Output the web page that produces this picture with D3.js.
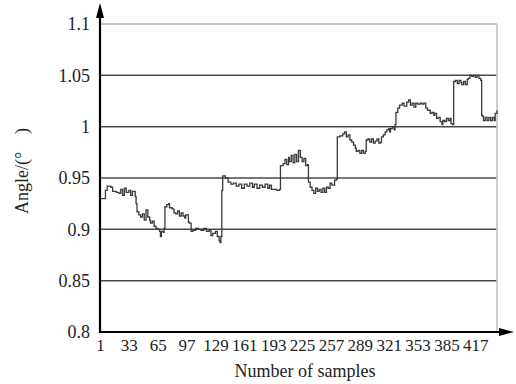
<!DOCTYPE html>
<html>
<head>
<meta charset="utf-8">
<script src="https://cdn.jsdelivr.net/npm/d3@7"></script>
<style>
  html, body { margin: 0; padding: 0; background: #fff; }
  svg { display: block; }
  text { font-family: "Liberation Serif", "Times New Roman", serif; fill: #222; }
</style>
</head>
<body>
<svg id="chart" width="516" height="384"></svg>
<script>
// Sample index and measured angle (degrees)
const sampleIdx = [
  1, 6, 7, 9, 13, 15, 19, 22, 24, 26, 28, 30, 33, 35, 37, 40, 41, 42, 44, 46,
  48, 50, 52, 54, 56, 57, 59, 61, 63, 65, 67, 68, 69, 71, 72, 73, 75, 77, 78, 81,
  83, 85, 87, 89, 91, 93, 95, 96, 99, 100, 102, 104, 107, 110, 113, 116, 119, 122, 124, 126,
  129, 131, 133, 134, 135, 136, 137, 140, 143, 146, 149, 152, 155, 158, 161, 164, 167, 170, 172, 175,
  178, 181, 184, 187, 189, 191, 194, 197, 200, 201, 204, 206, 208, 210, 211, 213, 215, 217, 219, 221,
  223, 225, 227, 229, 231, 232, 234, 236, 238, 240, 242, 244, 246, 248, 250, 252, 254, 256, 258, 261,
  263, 264, 267, 270, 272, 274, 276, 278, 280, 282, 284, 285, 287, 289, 291, 293, 295, 296, 298, 300,
  302, 304, 306, 308, 310, 312, 313, 315, 317, 319, 321, 322, 323, 325, 327, 328, 329, 331, 333, 336,
  338, 341, 343, 345, 347, 349, 351, 353, 356, 358, 360, 362, 364, 366, 367, 369, 371, 372, 374, 376,
  378, 380, 381, 383, 385, 387, 389, 390, 392, 393, 395, 397, 399, 401, 402, 404, 406, 408, 409, 411,
  413, 415, 417, 419, 421, 423, 424, 425, 426, 428, 430, 432, 434, 436, 438, 439, 441
];
const angleVal = [
  0.930, 0.930, 0.938, 0.942, 0.941, 0.937, 0.936, 0.935, 0.939, 0.933, 0.940, 0.936, 0.938, 0.933, 0.937, 0.932, 0.925, 0.917, 0.914, 0.912,
  0.915, 0.909, 0.919, 0.912, 0.909, 0.906, 0.908, 0.903, 0.901, 0.900, 0.898, 0.893, 0.898, 0.897, 0.901, 0.922, 0.924, 0.925, 0.921, 0.920,
  0.916, 0.915, 0.918, 0.913, 0.916, 0.913, 0.911, 0.914, 0.907, 0.906, 0.898, 0.899, 0.901, 0.900, 0.899, 0.901, 0.898, 0.899, 0.894, 0.896,
  0.898, 0.893, 0.889, 0.887, 0.893, 0.938, 0.952, 0.950, 0.946, 0.944, 0.945, 0.942, 0.944, 0.940, 0.944, 0.942, 0.945, 0.941, 0.944, 0.940,
  0.943, 0.941, 0.944, 0.940, 0.943, 0.939, 0.939, 0.938, 0.939, 0.962, 0.964, 0.968, 0.963, 0.970, 0.966, 0.972, 0.965, 0.973, 0.966, 0.977,
  0.970, 0.966, 0.969, 0.962, 0.963, 0.946, 0.941, 0.938, 0.935, 0.940, 0.937, 0.939, 0.936, 0.940, 0.936, 0.941, 0.940, 0.945, 0.943, 0.948,
  0.949, 0.990, 0.991, 0.993, 0.995, 0.990, 0.992, 0.987, 0.985, 0.982, 0.979, 0.976, 0.977, 0.974, 0.977, 0.974, 0.976, 0.987, 0.988, 0.985,
  0.988, 0.984, 0.986, 0.988, 0.984, 0.985, 0.990, 0.992, 0.995, 0.997, 0.998, 0.995, 0.998, 1.000, 0.997, 1.002, 1.014, 1.018, 1.021, 1.023,
  1.020, 1.024, 1.026, 1.021, 1.023, 1.019, 1.023, 1.022, 1.023, 1.022, 1.023, 1.018, 1.016, 1.016, 1.013, 1.014, 1.011, 1.013, 1.008, 1.009,
  1.005, 1.002, 1.006, 1.005, 1.008, 1.006, 1.008, 1.003, 1.002, 1.044, 1.045, 1.042, 1.045, 1.043, 1.041, 1.044, 1.041, 1.046, 1.047, 1.050,
  1.049, 1.050, 1.048, 1.050, 1.047, 1.045, 1.011, 1.010, 1.006, 1.009, 1.006, 1.009, 1.006, 1.009, 1.006, 1.013, 1.016
];

const xTickValues = [1, 33, 65, 97, 129, 161, 193, 225, 257, 289, 321, 353, 385, 417];
const yTickValues = [0.8, 0.85, 0.9, 0.95, 1, 1.05, 1.1];
const yTickLabels = ["0.8", "0.85", "0.9", "0.95", "1", "1.05", "1.1"];
const xTitle = "Number of samples";
const yTitle = "Angle/(°\u2003)";

const svg = d3.select("#chart");
const plotLeft = 100, plotRight = 497, plotTop = 24, plotBottom = 332;

const x = d3.scaleLinear().domain([1, 441]).range([plotLeft, plotRight]);
const y = d3.scaleLinear().domain([0.8, 1.1]).range([plotBottom, plotTop]);

// horizontal grid lines
svg.append("g")
  .selectAll("line")
  .data(yTickValues.filter(v => v > 0.8))
  .join("line")
  .attr("x1", plotLeft).attr("x2", plotRight)
  .attr("y1", d => y(d)).attr("y2", d => y(d))
  .attr("stroke", d => d === 1.1 ? "#b4b4b4" : "#4a4a4a")
  .attr("stroke-width", d => d === 1.1 ? 1.6 : 1.5);

// right frame edge
svg.append("line")
  .attr("x1", plotRight).attr("x2", plotRight)
  .attr("y1", plotTop).attr("y2", plotBottom)
  .attr("stroke", "#c4c4c4").attr("stroke-width", 1.6);

// data trace
const data = sampleIdx.map((s, i) => [s, angleVal[i]]);
svg.append("path")
  .datum(data)
  .attr("fill", "none")
  .attr("stroke", "#3a3a3a")
  .attr("stroke-width", 1.3)
  .attr("d", d3.line().x(d => x(d[0])).y(d => y(d[1])).curve(d3.curveStepAfter));

// y axis
const yAxis = svg.append("g")
  .attr("transform", `translate(${plotLeft},0)`)
  .call(d3.axisLeft(y).tickValues(yTickValues).tickSize(0).tickPadding(10)
    .tickFormat((d, i) => yTickLabels[i]));
yAxis.select(".domain").remove();
yAxis.selectAll("text").attr("font-size", 18).attr("font-family", "Liberation Serif").attr("fill", "#222");

// x axis
const xAxis = svg.append("g")
  .attr("transform", `translate(0,${plotBottom})`)
  .call(d3.axisBottom(x).tickValues(xTickValues).tickSize(0).tickPadding(7)
    .tickFormat(d3.format("d")));
xAxis.select(".domain").remove();
xAxis.selectAll("text").attr("font-size", 17).attr("font-family", "Liberation Serif").attr("fill", "#222");

// axis lines with arrow heads
svg.append("line")
  .attr("x1", plotLeft).attr("x2", plotLeft).attr("y1", plotBottom + 1).attr("y2", 14)
  .attr("stroke", "#000").attr("stroke-width", 2.2);
svg.append("path")
  .attr("d", `M${plotLeft},3 L${plotLeft - 4},18 L${plotLeft + 4},18 Z`)
  .attr("fill", "#000");
svg.append("line")
  .attr("x1", plotLeft - 1).attr("x2", 504).attr("y1", plotBottom).attr("y2", plotBottom)
  .attr("stroke", "#000").attr("stroke-width", 2.2);
svg.append("path")
  .attr("d", `M514,${plotBottom} L499,${plotBottom - 4} L499,${plotBottom + 4} Z`)
  .attr("fill", "#000");

// titles
svg.append("text")
  .attr("x", 305).attr("y", 377)
  .attr("text-anchor", "middle")
  .attr("font-size", 18)
  .text(xTitle);
svg.append("text")
  .attr("transform", "translate(28,171) rotate(-90)")
  .attr("text-anchor", "middle")
  .attr("font-size", 18)
  .text(yTitle);
</script>
</body>
</html>
